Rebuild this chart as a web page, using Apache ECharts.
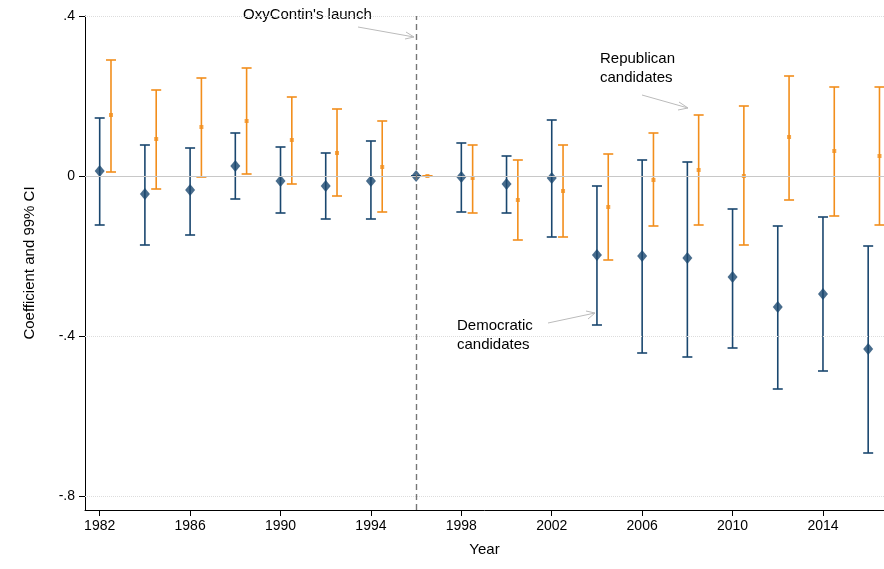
<!DOCTYPE html>
<html><head><meta charset="utf-8">
<script src="https://cdn.jsdelivr.net/npm/echarts@6/dist/echarts.min.js"></script>
<style>html,body{margin:0;background:#fff}#c{width:884px;height:569px}</style>
</head><body><div id="c"></div>
<script>
const years = [1982,1984,1986,1988,1990,1992,1994,1996,1998,2000,2002,2004,2006,2008,2010,2012,2014,2016];
const demCoef = [0.0125,-0.045,-0.035,0.025,-0.0125,-0.025,-0.0125,0,-0.0025,-0.02,-0.005,-0.1975,-0.2,-0.205,-0.2525,-0.3275,-0.295,-0.4325];
const demHigh = [0.145,0.0775,0.07,0.1075,0.0725,0.0575,0.0875,0,0.0825,0.05,0.14,-0.025,0.04,0.035,-0.0825,-0.125,-0.1025,-0.175];
const demLow = [-0.1225,-0.1725,-0.1475,-0.0575,-0.0925,-0.1075,-0.1075,0,-0.09,-0.0925,-0.1525,-0.3725,-0.4425,-0.4525,-0.43,-0.5325,-0.4875,-0.6925];
const repCoef = [0.1525,0.0925,0.1225,0.1375,0.09,0.0575,0.0225,0,-0.005,-0.06,-0.0375,-0.0775,-0.01,0.015,0,0.0975,0.0625,0.05];
const repHigh = [0.29,0.215,0.245,0.27,0.1975,0.1675,0.1375,0,0.0775,0.04,0.0775,0.055,0.1075,0.1525,0.175,0.25,0.2225,0.2225];
const repLow = [0.01,-0.0325,-0.0025,0.005,-0.02,-0.05,-0.09,0,-0.0925,-0.16,-0.1525,-0.21,-0.125,-0.1225,-0.1725,-0.06,-0.1,-0.1225];
const xTicks = [1982,1986,1990,1994,1998,2002,2006,2010,2014];
const yTicks = [0.4,0,-0.4,-0.8];
const repShift = 0.5;

const DEM = '#1a476f', REP = '#f28e1c';
const font = 'Liberation Sans, Arial, sans-serif';

function errBars(color, shift, low, high) {
  return {
    type: 'custom',
    data: years.map((y, i) => [y + shift, low[i], high[i]]),
    renderItem: function (params, api) {
      const x = api.coord([api.value(0), api.value(1)])[0];
      const lo = api.coord([api.value(0), api.value(1)])[1];
      const hi = api.coord([api.value(0), api.value(2)])[1];
      const w = 5;
      const st = {stroke: color, lineWidth: 1.6};
      return {type: 'group', children: [
        {type: 'line', shape: {x1: x, y1: lo, x2: x, y2: hi}, style: st},
        {type: 'line', shape: {x1: x - w, y1: lo, x2: x + w, y2: lo}, style: st},
        {type: 'line', shape: {x1: x - w, y1: hi, x2: x + w, y2: hi}, style: st}
      ]};
    },
    z: 2
  };
}

const chart = echarts.init(document.getElementById('c'));
chart.setOption({
  animation: false,
  grid: {left: 85, right: 0, top: 16, bottom: 59},
  xAxis: {
    type: 'value', min: 1981.35, max: 2016.7,
    name: 'Year', nameLocation: 'middle', nameGap: 32,
    nameTextStyle: {fontFamily: font, fontSize: 15, color: '#000'},
    axisLine: {onZero: false, lineStyle: {color: '#000'}},
    axisTick: {customValues: xTicks, length: 6, lineStyle: {color: '#000'}},
    axisLabel: {customValues: xTicks, fontFamily: font, fontSize: 14, color: '#000', margin: 9,
      formatter: v => String(v)},
    splitLine: {show: false}
  },
  yAxis: {
    type: 'value', min: -0.835, max: 0.4,
    name: 'Coefficient and 99% CI', nameLocation: 'middle', nameGap: 48,
    nameTextStyle: {fontFamily: font, fontSize: 15, color: '#000'},
    axisLine: {show: true, lineStyle: {color: '#000'}},
    axisTick: {show: true, customValues: yTicks, length: 6, lineStyle: {color: '#000'}},
    axisLabel: {customValues: yTicks, fontFamily: font, fontSize: 14, color: '#000', margin: 10,
      formatter: v => v === 0 ? '0' : (v < 0 ? '-' : '') + String(Math.abs(v)).replace(/^0/, '')},
    splitLine: {show: false}
  },
  series: [
    {
      type: 'line', data: [], silent: true,
      markLine: {
        symbol: 'none', silent: true, label: {show: false},
        data: [
          {yAxis: 0.4, lineStyle: {color: '#ddd', type: 'dotted', width: 1}},
          {yAxis: -0.4, lineStyle: {color: '#ddd', type: 'dotted', width: 1}},
          {yAxis: -0.8, lineStyle: {color: '#ddd', type: 'dotted', width: 1}},
          {yAxis: 0, lineStyle: {color: '#c8c8c8', type: 'solid', width: 1.2}},
          {xAxis: 1996, lineStyle: {color: '#777', type: [6, 4], width: 1.4}}
        ]
      }
    },
    errBars(DEM, 0, demLow, demHigh),
    errBars(REP, repShift, repLow, repHigh),
    {type: 'scatter', symbol: 'diamond', symbolSize: [10, 12], itemStyle: {color: DEM},
      data: years.map((y, i) => [y, demCoef[i]]), z: 3},
    {type: 'scatter', symbol: 'rect', symbolSize: 4, itemStyle: {color: REP},
      data: years.map((y, i) => [y + repShift, repCoef[i]]), z: 3}
  ],
  graphic: [
    {type: 'text', left: 243, top: 7, style: {text: "OxyContin's launch", font: '15px ' + font, fill: '#000'}},
    {type: 'line', shape: {x1: 358, y1: 27, x2: 414, y2: 37}, style: {stroke: '#bbb', lineWidth: 1}},
    {type: 'line', shape: {x1: 406, y1: 32, x2: 414, y2: 37}, style: {stroke: '#bbb', lineWidth: 1}},
    {type: 'line', shape: {x1: 405, y1: 39, x2: 414, y2: 37}, style: {stroke: '#bbb', lineWidth: 1}},
    {type: 'text', left: 600, top: 49, style: {text: 'Republican\ncandidates', font: '15px ' + font, fill: '#000', lineHeight: 19, align: 'center', x: 45}},
    {type: 'line', shape: {x1: 642, y1: 95, x2: 688, y2: 108}, style: {stroke: '#bbb', lineWidth: 1}},
    {type: 'line', shape: {x1: 679, y1: 102, x2: 688, y2: 108}, style: {stroke: '#bbb', lineWidth: 1}},
    {type: 'line', shape: {x1: 678, y1: 110, x2: 688, y2: 108}, style: {stroke: '#bbb', lineWidth: 1}},
    {type: 'text', left: 457, top: 316, style: {text: 'Democratic\ncandidates', font: '15px ' + font, fill: '#000', lineHeight: 19}},
    {type: 'line', shape: {x1: 548, y1: 323, x2: 595, y2: 313}, style: {stroke: '#bbb', lineWidth: 1}},
    {type: 'line', shape: {x1: 586, y1: 311, x2: 595, y2: 313}, style: {stroke: '#bbb', lineWidth: 1}},
    {type: 'line', shape: {x1: 588, y1: 319, x2: 595, y2: 313}, style: {stroke: '#bbb', lineWidth: 1}}
  ]
});
</script></body></html>
